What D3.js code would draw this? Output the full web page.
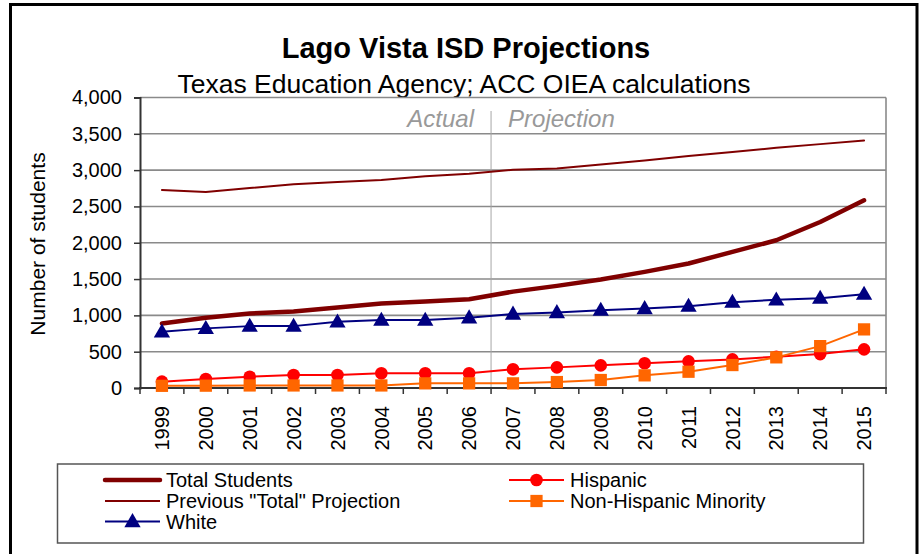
<!DOCTYPE html>
<html>
<head>
<meta charset="utf-8">
<script src="https://cdn.jsdelivr.net/npm/d3@7"></script>
<style>
  body { margin: 0; background: #fff; }
  svg { display: block; font-family: "Liberation Sans", Arial, sans-serif; }
</style>
</head>
<body>
<svg></svg>
<script>
// Data
const years = ["1999","2000","2001","2002","2003","2004","2005","2006","2007","2008","2009","2010","2011","2012","2013","2014","2015"];
const totalStudents = [889, 967, 1027, 1054, 1109, 1164, 1191, 1223, 1327, 1406, 1494, 1599, 1714, 1874, 2034, 2286, 2584];
const previousTotal = [2726, 2698, 2753, 2804, 2836, 2863, 2914, 2951, 3006, 3024, 3079, 3134, 3193, 3248, 3308, 3358, 3409];
const white = [774, 821, 852, 852, 911, 935, 935, 967, 1020, 1040, 1072, 1095, 1127, 1182, 1214, 1237, 1292];
const hispanic = [87, 124, 155, 179, 179, 202, 202, 202, 257, 284, 312, 340, 367, 394, 430, 467, 532];
const nonHispanic = [30, 32, 35, 35, 35, 35, 64, 64, 64, 82, 110, 174, 224, 316, 422, 577, 807];
const yTicks = [0, 500, 1000, 1500, 2000, 2500, 3000, 3500, 4000];

let width = 920,
  height = 554;

let svg = d3.select("svg").attr("width", width).attr("height", height);

// outer frame
svg.append("path")
  .attr("d", "M10.5,560 L10.5,4.5 L917,4.5 L917,560")
  .attr("fill", "none")
  .attr("stroke", "#000")
  .attr("stroke-width", 3);

// titles
svg.append("text")
  .attr("x", 466).attr("y", 58)
  .attr("text-anchor", "middle")
  .style("font-size", "29px").style("font-weight", "bold")
  .text("Lago Vista ISD Projections");
svg.append("text")
  .attr("x", 464).attr("y", 93)
  .attr("text-anchor", "middle")
  .style("font-size", "26.5px")
  .text("Texas Education Agency; ACC OIEA calculations");

const plotLeft = 140, plotRight = 886, plotTop = 97.5, plotBottom = 388;

let x = d3.scaleBand().domain(years).range([plotLeft, plotRight]).padding(0);
let y = d3.scaleLinear().domain([0, 4000]).range([plotBottom, plotTop]);
const cx = (d, i) => x(years[i]) + x.bandwidth() / 2;

// gridlines
svg.append("g")
  .selectAll("line")
  .data(yTicks.filter((v) => v > 0))
  .enter()
  .append("line")
  .attr("x1", plotLeft).attr("x2", plotRight)
  .attr("y1", (d) => y(d)).attr("y2", (d) => y(d))
  .attr("stroke", "#8a8a8a")
  .attr("stroke-width", 1.6);

// right border of plot
svg.append("line")
  .attr("x1", plotRight).attr("x2", plotRight)
  .attr("y1", plotTop).attr("y2", plotBottom)
  .attr("stroke", "#8a8a8a").attr("stroke-width", 1.6);

// actual / projection divider
svg.append("line")
  .attr("x1", x("2007")).attr("x2", x("2007"))
  .attr("y1", 111).attr("y2", plotBottom)
  .attr("stroke", "#a6a6a6").attr("stroke-width", 1);
svg.append("text")
  .attr("x", x("2007") - 17).attr("y", 127)
  .attr("text-anchor", "end")
  .style("font-size", "24px").style("font-style", "italic")
  .attr("fill", "#999")
  .text("Actual");
svg.append("text")
  .attr("x", x("2007") + 17).attr("y", 127)
  .style("font-size", "24px").style("font-style", "italic")
  .attr("fill", "#999")
  .text("Projection");

// y axis
let yAxis = svg.append("g")
  .attr("transform", `translate(${plotLeft},0)`)
  .call(d3.axisLeft(y).tickValues(yTicks).tickFormat(d3.format(",")).tickSize(6).tickPadding(12));
yAxis.select(".domain").attr("stroke", "#333").attr("stroke-width", 2);
yAxis.selectAll(".tick line").attr("stroke", "#333").attr("stroke-width", 1.5);
yAxis.selectAll("text")
  .style("font-size", "20px")
  .attr("fill", "#000")
  .style("font-family", "Liberation Sans, Arial, sans-serif");

svg.append("text")
  .attr("transform", "translate(45,244) rotate(-90)")
  .attr("text-anchor", "middle")
  .style("font-size", "21px")
  .text("Number of students");

// x axis
let xAxis = svg.append("g")
  .attr("transform", `translate(0,${plotBottom})`)
  .call(d3.axisBottom(x).tickSize(0));
xAxis.select(".domain").remove();
xAxis.selectAll("text")
  .attr("transform", "rotate(-90)")
  .attr("x", -18).attr("y", 0).attr("dy", "0.36em")
  .attr("text-anchor", "end")
  .attr("fill", "#000")
  .style("font-size", "20px")
  .style("font-family", "Liberation Sans, Arial, sans-serif");
svg.append("g")
  .selectAll("line")
  .data(years.map((d) => x(d)).concat([plotRight]))
  .enter()
  .append("line")
  .attr("x1", (d) => d).attr("x2", (d) => d)
  .attr("y1", plotBottom).attr("y2", plotBottom + 6)
  .attr("stroke", "#333").attr("stroke-width", 1.5);
svg.append("line")
  .attr("x1", plotLeft - 1).attr("x2", plotRight + 1)
  .attr("y1", plotBottom).attr("y2", plotBottom)
  .attr("stroke", "#333").attr("stroke-width", 2);

// series
const line = d3.line().x(cx).y((d) => y(d));

const series = [
  { name: "Total Students", values: totalStudents, color: "#800000", width: 4.5, marker: "none" },
  { name: "Hispanic", values: hispanic, color: "#ff0000", width: 2, marker: "circle" },
  { name: "Previous \"Total\" Projection", values: previousTotal, color: "#800000", width: 2, marker: "none" },
  { name: "Non-Hispanic Minority", values: nonHispanic, color: "#ff6600", width: 2, marker: "square" },
  { name: "White", values: white, color: "#000080", width: 2, marker: "triangle" },
];

const symbolFor = {
  circle: d3.symbol().type(d3.symbolCircle).size(125),
  square: d3.symbol().type(d3.symbolSquare).size(150),
  triangle: d3.symbol().type(d3.symbolTriangle).size(115),
};

series.forEach((s) => {
  svg.append("path")
    .datum(s.values)
    .attr("fill", "none")
    .attr("stroke", s.color)
    .attr("stroke-width", s.width)
    .attr("stroke-linejoin", "round")
    .attr("stroke-linecap", "round")
    .attr("d", line);
  if (s.marker !== "none") {
    svg.append("g")
      .selectAll("path")
      .data(s.values)
      .enter()
      .append("path")
      .attr("d", symbolFor[s.marker])
      .attr("transform", (d, i) => `translate(${cx(d, i)},${y(d) + (s.marker === "triangle" ? 1 : 0)})`)
      .attr("fill", s.color);
  }
});

// legend
svg.append("rect")
  .attr("x", 57.5).attr("y", 464)
  .attr("width", 806).attr("height", 79)
  .attr("fill", "none")
  .attr("stroke", "#555")
  .attr("stroke-width", 1.5);

const legendPos = {
  "Total Students": [105, 480],
  "Previous \"Total\" Projection": [105, 501],
  "White": [105, 521.5],
  "Hispanic": [509, 480],
  "Non-Hispanic Minority": [509, 501],
};

let legend = svg.append("g")
  .selectAll("g")
  .data(series)
  .enter()
  .append("g")
  .attr("transform", (d) => `translate(${legendPos[d.name][0]},${legendPos[d.name][1]})`);
legend.append("line")
  .attr("x1", 0).attr("x2", 55)
  .attr("stroke", (d) => d.color)
  .attr("stroke-width", (d) => d.width)
  .attr("stroke-linecap", (d) => (d.width > 3 ? "round" : "butt"));
legend.filter((d) => d.marker !== "none")
  .append("path")
  .attr("d", (d) => symbolFor[d.marker]())
  .attr("transform", (d) => `translate(27.5,${d.marker === "triangle" ? 1 : 0})`)
  .attr("fill", (d) => d.color);
legend.append("text")
  .attr("x", 61).attr("y", 0).attr("dy", "0.36em")
  .style("font-size", "20px")
  .text((d) => d.name);
</script>
</body>
</html>
